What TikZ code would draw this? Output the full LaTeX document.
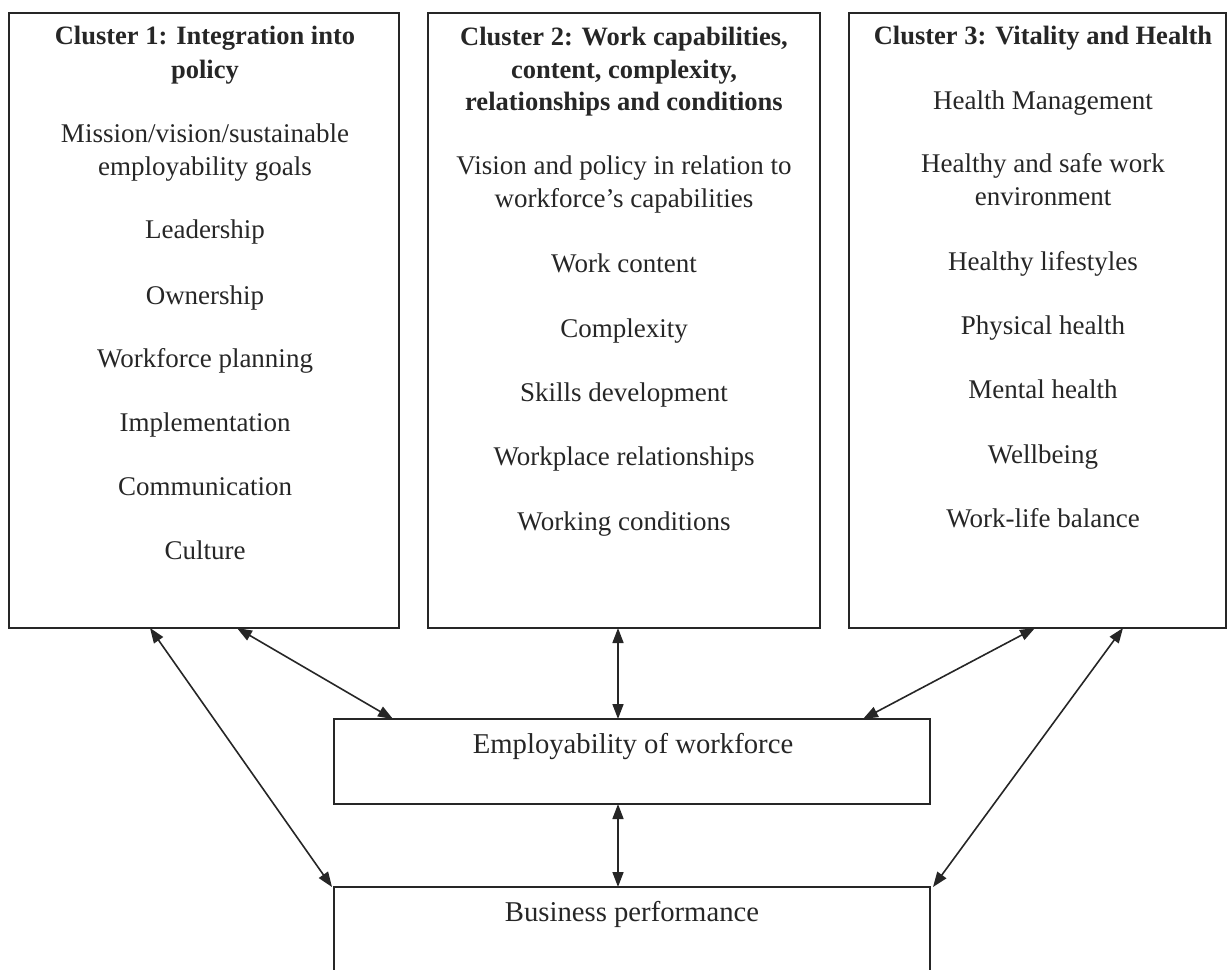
\documentclass[tikz,border=0pt]{standalone}
\usepackage{fontspec}
\setmainfont{Liberation Serif}
\usetikzlibrary{arrows.meta}
\begin{document}
\begin{tikzpicture}[x=1pt,y=-1pt,
  boxline/.style={draw=black!85,line width=1.6pt},
  txt/.style={font=\fontsize{27}{33}\selectfont,text=black!85,inner sep=0pt,anchor=base},
  ttl/.style={font=\fontsize{26.5}{33}\selectfont\bfseries,text=black!85,inner sep=0pt,anchor=base},
  big/.style={font=\fontsize{28.7}{34}\selectfont,text=black!85,inner sep=0pt,anchor=base},
  link/.style={draw=black!85,line width=1.6pt,{Triangle[length=15pt,width=11pt]}-{Triangle[length=15pt,width=11pt]}}]
\useasboundingbox (0,0) rectangle (1228,969);
\clip (0,0) rectangle (1228,969);
% boxes
\draw[boxline] (9,13) rectangle (399,628);
\draw[boxline] (428,13) rectangle (820,628);
\draw[boxline] (849,13) rectangle (1226,628);
\draw[boxline] (334,719) rectangle (930,804);
\draw[boxline] (334,887) rectangle (930,1000);
% anchor coordinates
\coordinate (b1a) at (150,628);
\coordinate (b1b) at (237,628);
\coordinate (b2a) at (618,628);
\coordinate (b3a) at (1035,628);
\coordinate (b3b) at (1123,628);
\coordinate (ema) at (393,719);
\coordinate (emb) at (618,719);
\coordinate (emc) at (863,719);
\coordinate (emd) at (618,804);
\coordinate (bpa) at (332,887);
\coordinate (bpb) at (618,887);
\coordinate (bpc) at (933,887);
% cluster 1
\node[ttl] (c1t1) at (205,44) {Cluster 1: Integration into};
\node[ttl] (c1t2) at (205,78) {policy};
\node[txt] (c1a) at (205,142) {Mission/vision/sustainable};
\node[txt] (c1b) at (205,175.5) {employability goals};
\node[txt] (c1c) at (205,238.5) {Leadership};
\node[txt] (c1d) at (205,304) {Ownership};
\node[txt] (c1e) at (205,367.5) {Workforce planning};
\node[txt] (c1f) at (205,431.5) {Implementation};
\node[txt] (c1g) at (205,495.5) {Communication};
\node[txt] (c1h) at (205,559.5) {Culture};
% cluster 2
\node[ttl] (c2t1) at (624,45) {Cluster 2: Work capabilities,};
\node[ttl] (c2t2) at (624,78) {content, complexity,};
\node[ttl] (c2t3) at (624,110.5) {relationships and conditions};
\node[txt] (c2a) at (624,174.5) {Vision and policy in relation to};
\node[txt] (c2b) at (624,207.5) {workforce’s capabilities};
\node[txt] (c2c) at (624,272.5) {Work content};
\node[txt] (c2d) at (624,337.5) {Complexity};
\node[txt] (c2e) at (624,401.5) {Skills development};
\node[txt] (c2f) at (624,465.5) {Workplace relationships};
\node[txt] (c2g) at (624,530) {Working conditions};
% cluster 3
\node[ttl] (c3t1) at (1043,44) {Cluster 3: Vitality and Health};
\node[txt] (c3a) at (1043,109) {Health Management};
\node[txt] (c3b) at (1043,172) {Healthy and safe work};
\node[txt] (c3c) at (1043,205.5) {environment};
\node[txt] (c3d) at (1043,270) {Healthy lifestyles};
\node[txt] (c3e) at (1043,334.5) {Physical health};
\node[txt] (c3f) at (1043,398) {Mental health};
\node[txt] (c3g) at (1043,463.5) {Wellbeing};
\node[txt] (c3h) at (1043,527) {Work-life balance};
% bottom
\node[big] (emp) at (633,753.5) {Employability of workforce};
\node[big] (bus) at (632,921.5) {Business performance};
% connectors
\draw[link] (b1a) -- (bpa);
\draw[link] (b1b) -- (ema);
\draw[link] (b2a) -- (emb);
\draw[link] (emd) -- (bpb);
\draw[link] (b3a) -- (emc);
\draw[link] (b3b) -- (bpc);
\end{tikzpicture}
\end{document}
